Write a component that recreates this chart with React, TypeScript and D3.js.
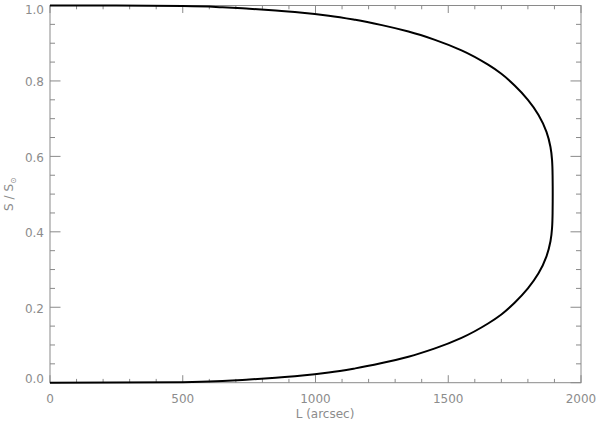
import React, { useEffect, useRef } from 'react';
import * as d3 from 'd3';

// upper branch of the curve: [L (arcsec), S / S_sun]
const upperBranch: [number, number][] = [
  [0, 1.0], [250, 0.9997], [500, 0.9985], [650, 0.9955], [750, 0.9915],
  [850, 0.987], [950, 0.981], [1050, 0.973], [1150, 0.962], [1250, 0.948],
  [1350, 0.931], [1450, 0.909], [1550, 0.881], [1650, 0.843], [1700, 0.819],
  [1750, 0.788], [1800, 0.75], [1840, 0.71], [1870, 0.665], [1885, 0.625],
  [1891, 0.59], [1893, 0.55], [1893.5, 0.5],
];

// lower branch, continuing from the turning point back to L = 0
const lowerBranch: [number, number][] = [
  [1893, 0.45], [1891, 0.41], [1885, 0.375], [1870, 0.335], [1840, 0.29],
  [1800, 0.25], [1750, 0.212], [1700, 0.181], [1650, 0.157], [1550, 0.119],
  [1450, 0.091], [1350, 0.069], [1250, 0.052], [1150, 0.038], [1050, 0.027],
  [950, 0.019], [850, 0.013], [750, 0.0085], [650, 0.0045], [500, 0.0015],
  [250, 0.0003], [0, 0.0],
];

const xMajorTicks = [0, 500, 1000, 1500, 2000];
const yMajorTicks = [0.0, 0.2, 0.4, 0.6, 0.8, 1.0];
const xTitle = 'L (arcsec)';

const App = () => {
  const ref = useRef<SVGSVGElement>(null);

  useEffect(() => {
    const width = 600;
    const height = 425;
    const left = 50, right = 581, top = 5.5, bottom = 382.7;
    const axisColor = '#8a8a8a';
    const textColor = '#8c8c8c';
    const font = '"DejaVu Sans", sans-serif';

    const svg = d3.select(ref.current);
    svg.selectAll('*').remove();
    svg.attr('width', width).attr('height', height);

    const x = d3.scaleLinear().domain([0, 2000]).range([left, right]);
    const y = d3.scaleLinear().domain([0, 1]).range([bottom, top]);

    // plot frame
    svg.append('rect')
      .attr('x', left).attr('y', top)
      .attr('width', right - left).attr('height', bottom - top)
      .attr('fill', 'none').attr('stroke', axisColor).attr('stroke-width', 1);

    const xMinor = d3.range(0, 2001, 100);
    const yMinor = d3.range(0, 1.0001, 0.05);
    const xMajLen = 7.5, xMinLen = 3.8, yMajLen = 10.5, yMinLen = 5;

    const ticks = svg.append('g').attr('stroke', axisColor).attr('stroke-width', 1);
    xMinor.forEach((v) => {
      const major = xMajorTicks.includes(v);
      const len = major ? xMajLen : xMinLen;
      ticks.append('line').attr('x1', x(v)).attr('x2', x(v)).attr('y1', bottom).attr('y2', bottom - len);
      ticks.append('line').attr('x1', x(v)).attr('x2', x(v)).attr('y1', top).attr('y2', top + len);
    });
    yMinor.forEach((v, i) => {
      const major = i % 4 === 0;
      const len = major ? yMajLen : yMinLen;
      ticks.append('line').attr('x1', left).attr('x2', left + len).attr('y1', y(v)).attr('y2', y(v));
      ticks.append('line').attr('x1', right).attr('x2', right - len).attr('y1', y(v)).attr('y2', y(v));
    });

    // tick labels
    svg.append('g').selectAll('text')
      .data(xMajorTicks)
      .enter()
      .append('text')
      .attr('x', (d) => x(d))
      .attr('y', 403)
      .attr('text-anchor', 'middle')
      .attr('fill', textColor)
      .style('font-family', font)
      .style('font-size', '12px')
      .text((d) => String(d));

    svg.append('g').selectAll('text')
      .data(yMajorTicks)
      .enter()
      .append('text')
      .attr('x', 44)
      .attr('y', (d) => Math.min(Math.max(y(d) + 1, 10), 379) + 4.3)
      .attr('text-anchor', 'end')
      .attr('fill', textColor)
      .style('font-family', font)
      .style('font-size', '12px')
      .text((d) => d.toFixed(1));

    // axis titles
    svg.append('text')
      .attr('x', 325)
      .attr('y', 418)
      .attr('text-anchor', 'middle')
      .attr('fill', textColor)
      .style('font-family', font)
      .style('font-size', '12px')
      .text(xTitle);

    const yt = svg.append('text')
      .attr('transform', `translate(13,${(top + bottom) / 2}) rotate(-90)`)
      .attr('text-anchor', 'middle')
      .attr('fill', textColor)
      .style('font-family', font)
      .style('font-size', '12px');
    yt.append('tspan').text('S / S');
    yt.append('tspan').attr('dy', 3).style('font-size', '8px').text('\u2299');

    // curve
    const pts = upperBranch.concat(lowerBranch);
    const line = d3.line<[number, number]>()
      .x((d) => x(d[0]))
      .y((d) => y(d[1]))
      .curve(d3.curveMonotoneY);

    svg.append('path')
      .datum(pts)
      .attr('d', line)
      .attr('fill', 'none')
      .attr('stroke', '#000')
      .attr('stroke-width', 2);
  }, []);

  return (
    <div style={{ position: 'absolute', left: 0, top: 0, background: '#fff' }}>
      <svg ref={ref}></svg>
    </div>
  );
};

export default App;
